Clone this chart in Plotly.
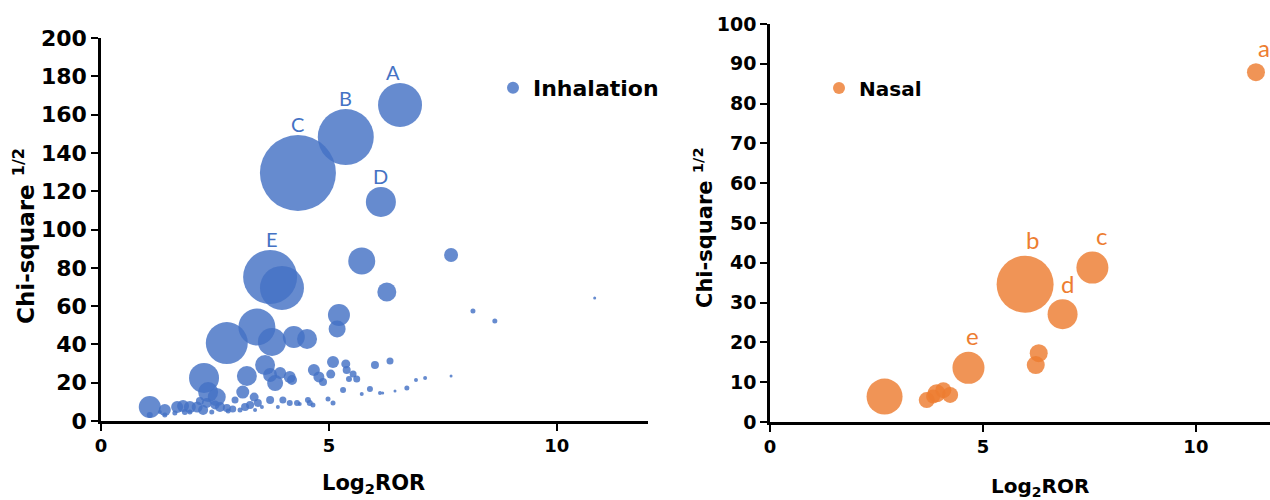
import plotly.graph_objects as go

# ---------------- data ----------------
# Inhalation: Log2ROR, Chi-square^(1/2), bubble magnitude
inh_x = [6.56, 5.37, 4.32, 6.14, 3.71, 3.97, 5.72, 7.68, 6.27, 8.16, 8.64, 10.83,
         5.22, 5.18, 3.42, 2.76, 3.75, 4.23, 4.52, 3.60, 3.20, 3.71, 3.93, 4.14,
         3.82, 4.19, 2.26, 2.35, 2.54, 3.11, 3.36, 1.07, 4.67, 4.78, 4.87, 5.09,
         5.04, 5.37, 5.39, 5.53, 5.61, 5.44, 6.01, 6.34, 5.31, 5.72, 5.90, 6.12,
         6.18, 6.45, 6.71, 6.91, 7.11, 7.68, 5.09, 4.98, 4.58,
         1.40, 1.67, 1.80, 1.95, 2.11, 2.32, 2.24, 2.61, 2.76, 2.89, 3.16, 3.27,
         3.44, 3.71, 3.99, 4.14, 4.30, 4.54, 4.65, 1.07, 1.40, 1.62, 1.95, 2.43,
         2.79, 3.05, 3.53, 3.88, 4.36, 3.38, 2.50, 1.84, 2.94, 2.17, 1.29]
inh_y = [165.0, 148.3, 129.5, 114.4, 75.2, 69.5, 83.6, 86.7, 67.4, 57.4, 52.2, 64.2,
         55.4, 48.0, 49.1, 40.7, 41.3, 43.9, 42.8, 29.2, 23.5, 24.0, 25.1, 23.0,
         19.8, 21.4, 22.5, 15.1, 12.5, 15.1, 12.5, 7.3, 26.6, 23.0, 20.4, 30.8,
         24.5, 29.8, 26.6, 24.5, 21.9, 21.9, 29.2, 31.3, 16.2, 14.1, 16.7, 14.6,
         14.6, 15.7, 17.2, 21.4, 22.5, 23.5, 9.4, 11.5, 9.4,
         5.7, 7.3, 7.8, 7.3, 7.3, 9.4, 5.7, 7.3, 6.8, 6.3, 7.3, 8.4,
         9.4, 11.0, 11.0, 9.4, 9.4, 11.0, 8.4, 3.1, 3.1, 4.2, 4.7, 4.7,
         5.2, 5.7, 7.3, 7.3, 8.9, 5.7, 8.4, 4.7, 11.0, 10.4, 4.7]
inh_n = [44, 56, 76, 30, 54, 44, 27, 14, 19, 5, 5, 3,
         22, 17, 37, 42, 28, 22, 20, 20, 20, 14, 12, 12,
         16, 10, 30, 20, 18, 13, 9, 22, 12, 11, 8, 12,
         9, 9, 8, 7, 7, 6, 8, 7, 6, 4, 6, 4,
         3, 3, 5, 4, 4, 3, 5, 5, 6,
         12, 12, 12, 12, 11, 10, 10, 10, 8, 7, 8, 8,
         8, 8, 7, 6, 6, 6, 5, 6, 5, 5, 5, 5,
         5, 5, 4, 4, 4, 4, 9, 6, 7, 8, 4]
inh_labels = ["A", "B", "C", "D", "E"]   # first five points

# Nasal
nas_x = [11.41, 5.99, 7.57, 6.87, 4.66, 6.31, 6.24, 2.69, 3.68, 3.91, 4.07, 4.23, 3.83]
nas_y = [87.9, 34.6, 38.8, 27.1, 13.6, 17.3, 14.3, 6.4, 5.5, 7.2, 8.0, 6.8, 6.4]
nas_n = [18, 57, 32, 30, 32, 18, 18, 36, 16, 18, 16, 16, 14]
nas_labels = ["a", "b", "c", "d", "e"]   # first five points

x_ticks_left = [0, 5, 10]
y_ticks_left = list(range(0, 201, 20))
x_ticks_right = [0, 5, 10]
y_ticks_right = list(range(0, 101, 10))

BLUE = "#4472C4"
ORANGE = "#ED7D31"
BOLD = "DejaVu Sans, Liberation Sans, Arial, sans-serif"
LAB = "Lato, Open Sans, sans-serif"

W, H = 1270, 500

fig = go.Figure()

fig.add_trace(go.Scatter(
    x=inh_x, y=inh_y, mode="markers", name="Inhalation",
    marker=dict(size=inh_n, sizemode="diameter", sizeref=1, color=BLUE,
                opacity=0.82, line=dict(width=0)),
    xaxis="x", yaxis="y", legend="legend", showlegend=True,
))
fig.add_trace(go.Scatter(
    x=nas_x, y=nas_y, mode="markers", name="Nasal",
    marker=dict(size=nas_n, sizemode="diameter", sizeref=1, color=ORANGE,
                opacity=0.82, line=dict(width=0)),
    xaxis="x2", yaxis="y2", legend="legend2", showlegend=True,
))


def ax(size):
    return dict(
        showline=True, linecolor="black", linewidth=2.5,
        ticks="outside", ticklen=7, tickwidth=2, tickcolor="black",
        showgrid=False, zeroline=False, automargin=False,
        tickfont=dict(family=BOLD, size=size, color="black", weight="bold"),
    )


fig.update_layout(
    width=W, height=H,
    margin=dict(l=0, r=0, t=0, b=0, autoexpand=False),
    paper_bgcolor="white", plot_bgcolor="white",
    xaxis=dict(domain=[101 / W, 648 / W], range=[0, 12], tickvals=x_ticks_left,
               anchor="y", **ax(18)),
    yaxis=dict(domain=[79 / H, 462 / H], range=[0, 200], tickvals=y_ticks_left,
               anchor="x", **ax(22)),
    xaxis2=dict(domain=[770 / W, 1.0], range=[0, 11.74], tickvals=x_ticks_right,
                anchor="y2", **ax(18)),
    yaxis2=dict(domain=[78 / H, 476 / H], range=[0, 100], tickvals=y_ticks_right,
                anchor="x2", **ax(19)),
    legend=dict(x=493 / W, y=1 - 88 / H, xanchor="left", yanchor="middle",
                bgcolor="rgba(0,0,0,0)", itemsizing="constant",
                font=dict(family=BOLD, size=22, color="black", weight="bold")),
    legend2=dict(x=819 / W, y=1 - 88 / H, xanchor="left", yanchor="middle",
                 bgcolor="rgba(0,0,0,0)", itemsizing="constant",
                 font=dict(family=BOLD, size=20, color="black", weight="bold")),
    showlegend=True,
)

annotations = []
# point labels
inh_xshift = [-7, 0, 0, 0, 2]
for i, lab in enumerate(inh_labels):
    annotations.append(dict(
        x=inh_x[i], y=inh_y[i], xref="x", yref="y", text=lab, showarrow=False,
        xanchor="center", yanchor="middle",
        yshift=inh_n[i] / 2 + 11, xshift=inh_xshift[i],
        font=dict(family=LAB, size=20, color=BLUE)))
nas_xshift = [8, 7, 9, 5, 4]
for i, lab in enumerate(nas_labels):
    annotations.append(dict(
        x=nas_x[i], y=nas_y[i], xref="x2", yref="y2", text=lab, showarrow=False,
        xanchor="center", yanchor="middle",
        yshift=nas_n[i] / 2 + 16, xshift=nas_xshift[i],
        font=dict(family=LAB, size=24, color=ORANGE)))

annotations += [
    dict(x=24 / W, y=1 - 236 / H, xref="paper", yref="paper", showarrow=False,
         xanchor="center", yanchor="middle",
         text="Chi-square <sup>1/2</sup>", textangle=-90,
         font=dict(family=BOLD, size=23, color="black", weight="bold")),
    dict(x=703 / W, y=1 - 228 / H, xref="paper", yref="paper", showarrow=False,
         xanchor="center", yanchor="middle",
         text="Chi-square <sup>1/2</sup>", textangle=-90,
         font=dict(family=BOLD, size=21, color="black", weight="bold")),
    dict(x=373 / W, y=1 - 484 / H, xref="paper", yref="paper", showarrow=False,
         xanchor="center", yanchor="middle",
         text="Log<sub>2</sub>ROR",
         font=dict(family=BOLD, size=21, color="black", weight="bold")),
    dict(x=1040 / W, y=1 - 487 / H, xref="paper", yref="paper", showarrow=False,
         xanchor="center", yanchor="middle",
         text="Log<sub>2</sub>ROR",
         font=dict(family=BOLD, size=20, color="black", weight="bold")),
]
fig.update_layout(annotations=annotations)

fig.write_html("out.html")
